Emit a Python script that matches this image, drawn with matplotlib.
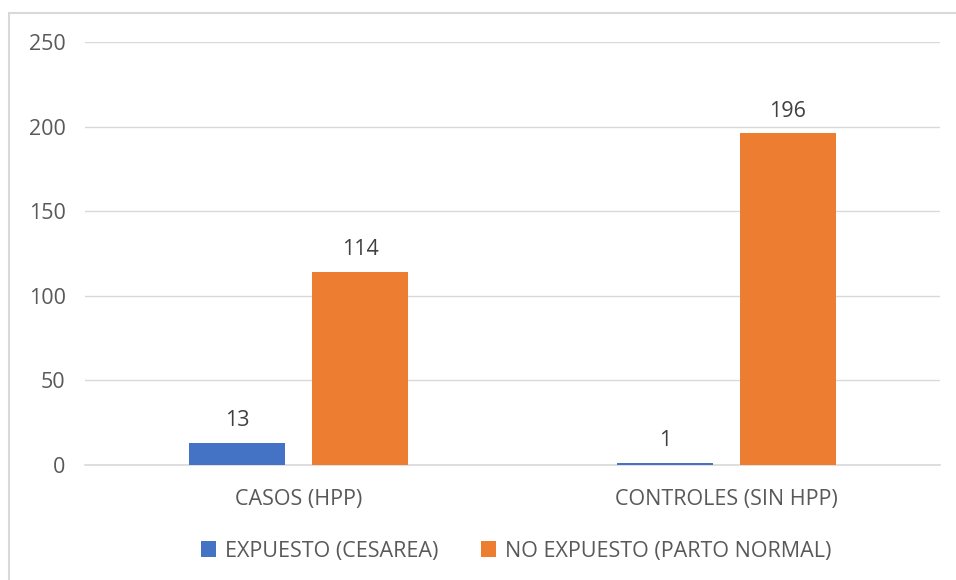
import matplotlib.pyplot as plt
from matplotlib.patches import Rectangle
import numpy as np

categories = ["CASOS (HPP)", "CONTROLES (SIN HPP)"]
series_names = ["EXPUESTO (CESAREA)", "NO EXPUESTO (PARTO NORMAL)"]
expuesto = [13, 1]
no_expuesto = [114, 196]
y_ticks = [0, 50, 100, 150, 200, 250]

plt.rcParams['font.family'] = ['Open Sans', 'DejaVu Sans']
fs = 15.5

fig = plt.figure(figsize=(9.56, 5.8), dpi=100)
ax = fig.add_axes([85 / 956, 1 - 465 / 580, 855 / 956, 423 / 580])

# outer chart border
fig.patches.append(Rectangle((9 / 956, -0.05), 1.0, 1 - 13 / 580 + 0.05,
                             transform=fig.transFigure, fill=False,
                             edgecolor='#d9d9d9', linewidth=1.5))

x = np.arange(len(categories))
w = 96 / 427.5
off = 123 / 2 / 427.5
colors = ['#4472c4', '#ed7d31']

for vals, dx, c, name in [(expuesto, -off, colors[0], series_names[0]),
                          (no_expuesto, off, colors[1], series_names[1])]:
    bars = ax.bar(x + dx, vals, w, color=c, label=name, zorder=3)
    for b, v in zip(bars, vals):
        ax.text(b.get_x() + b.get_width() / 2, v + 7, str(v), ha='center',
                va='bottom', fontsize=fs, color='#404040')

ax.set_xlim(-0.5, 1.5)
ax.set_ylim(0, 250)
ax.set_yticks(y_ticks)
ax.set_xticks(x)
ax.set_xticklabels(categories)
ax.grid(axis='y', color='#d9d9d9', linewidth=1, zorder=0)
for s in ['top', 'right', 'left']:
    ax.spines[s].set_visible(False)
ax.spines['bottom'].set_color('#d9d9d9')
ax.spines['bottom'].set_linewidth(1.2)
ax.tick_params(axis='both', length=0, labelsize=fs, colors='#595959')
ax.tick_params(axis='y', pad=14)
ax.tick_params(axis='x', pad=17)

leg = fig.legend(loc='center', bbox_to_anchor=(0.54, 1 - 551 / 580), ncol=2,
                 frameon=False, fontsize=fs, handlelength=0.7, handleheight=0.7,
                 columnspacing=2.0, handletextpad=0.4)
for t in leg.get_texts():
    t.set_color('#595959')

fig.savefig('out.png', dpi=100)
